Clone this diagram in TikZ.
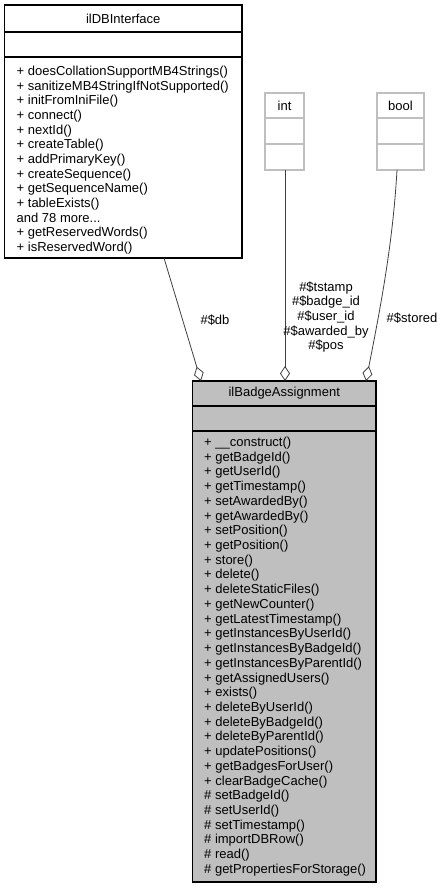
\documentclass[tikz,border=0pt]{standalone}
\usepackage{fontspec}
\setmainfont{Liberation Sans}
\usetikzlibrary{arrows.meta}
\definecolor{edgec}{HTML}{404040}
\definecolor{lightb}{HTML}{BFBFBF}
\definecolor{fillb}{HTML}{BFBFBF}
\newcommand{\moredots}{and 78 more.\kern0pt.\kern0pt.}
\begin{document}
\begin{tikzpicture}[x=1pt,y=-1pt,
  font=\fontsize{13}{14.6}\selectfont,
  classbox/.style={draw=black, line width=1.1pt, anchor=north west, inner sep=0pt, outer sep=0pt},
  typebox/.style={draw=lightb, line width=1.1pt, anchor=north west, inner sep=0pt, outer sep=0pt},
  sep/.style={line width=1.1pt},
  txt/.style={anchor=base west, inner sep=0pt},
  ttl/.style={inner sep=0pt},
  edge/.style={draw=edgec, line width=0.8pt, -{Diamond[open, length=15pt, width=10pt, line width=0.8pt]}},
  lbl/.style={align=center, inner sep=0pt}]
\useasboundingbox (0,0) rectangle (443,888);

% ilDBInterface
\node[classbox, minimum width=237.5pt, minimum height=253pt] (db) at (4.5,5) {};
\draw[sep] (4.5,32) -- (242,32);
\draw[sep] (4.5,57) -- (242,57);
\node[ttl] (dbt) at (123.25,18.5) {ilDBInterface};
\foreach [count=\i] \t in {+ doesCollationSupportMB4Strings(), + sanitizeMB4StringIfNotSupported(),
  + initFromIniFile(), + connect(), + nextId(), + createTable(), + addPrimaryKey(),
  + createSequence(), + getSequenceName(), + tableExists(), \moredots, + getReservedWords(),
  + isReservedWord()}
  \node[txt] (dbm\i) at (16.5, {75.5+(\i-1)*14.67}) {\t};

% int
\node[typebox, minimum width=39pt, minimum height=77pt] (int) at (265,93) {};
\draw[sep, draw=lightb] (265,118) -- (304,118);
\draw[sep, draw=lightb] (265,144) -- (304,144);
\node[ttl] (intt) at (284.5,105.5) {int};

% bool
\node[typebox, minimum width=47pt, minimum height=77pt] (bool) at (377,93) {};
\draw[sep, draw=lightb] (377,118) -- (424,118);
\draw[sep, draw=lightb] (377,144) -- (424,144);
\node[ttl] (boolt) at (400.5,105.5) {bool};

% ilBadgeAssignment
\node[classbox, fill=fillb, minimum width=183.5pt, minimum height=501pt] (ba) at (192.5,381) {};
\draw[sep] (192.5,406) -- (376,406);
\draw[sep] (192.5,431) -- (376,431);
\node[ttl] (bat) at (284.25,393.5) {ilBadgeAssignment};
\foreach [count=\i] \t in {+ \_\_construct(), + getBadgeId(), + getUserId(), + getTimestamp(),
  + setAwardedBy(), + getAwardedBy(), + setPosition(), + getPosition(), + store(), + delete(),
  + deleteStaticFiles(), + getNewCounter(), + getLatestTimestamp(), + getInstancesByUserId(),
  + getInstancesByBadgeId(), + getInstancesByParentId(), + getAssignedUsers(), + exists(),
  + deleteByUserId(), + deleteByBadgeId(), + deleteByParentId(), + updatePositions(),
  + getBadgesForUser(), + clearBadgeCache(), \# setBadgeId(), \# setUserId(), \# setTimestamp(),
  \# importDBRow(), \# read(), \# getPropertiesForStorage()}
  \node[txt] (bam\i) at (204, {446.5+(\i-1)*14.72}) {\t};

% connectors
\coordinate (dbS) at (164,258);
\coordinate (dbE) at (201,381);
\draw[edge] (dbS) -- (dbE);
\node[lbl] (dbl) at (215,320) {\#\$db};

\coordinate (intS) at (285,170);
\coordinate (intE) at (285,381);
\draw[edge] (intS) -- (intE);
\node[lbl] (intl) at (326,317) {\#\$tstamp\\\#\$badge\_id\\\#\$user\_id\\\#\$awarded\_by\\\#\$pos};

\coordinate (boolS) at (397,170);
\coordinate (boolE) at (366,381);
\draw[edge] (boolS) .. controls (393,240) and (382,300) .. (boolE);
\node[lbl] (booll) at (412,318) {\#\$stored};
\end{tikzpicture}
\end{document}
